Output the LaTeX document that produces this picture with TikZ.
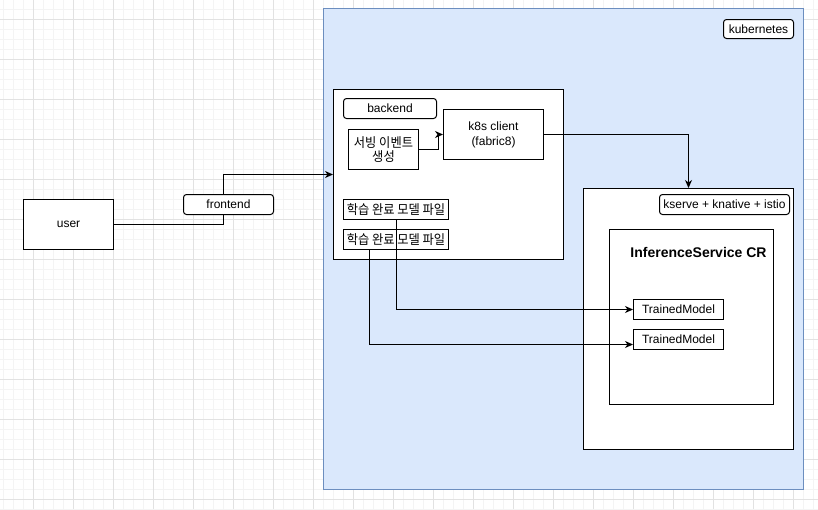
\documentclass[tikz,border=0pt]{standalone}
\usepackage{fontspec}
\setmainfont{Liberation Sans}
\newfontfamily\kr{Noto Sans CJK KR}
\usetikzlibrary{arrows.meta}
\definecolor{kfill}{HTML}{DAE8FC}
\definecolor{kdraw}{HTML}{6C8EBF}
\definecolor{gminor}{HTML}{F4F4F4}
\definecolor{gmajor}{HTML}{E2E2E2}
\newcommand{\krs}[1]{{\kr\fontsize{12.5}{15}\selectfont\scalebox{0.98}[1.05]{#1}}}
\pgfdeclarelayer{front}
\pgfsetlayers{main,front}
\begin{document}
\begin{tikzpicture}[x=1pt,y=-1pt,
  font=\fontsize{12}{15}\selectfont,
  box/.style={draw, line width=1pt, fill=white, inner sep=0pt, anchor=north west, align=center},
  rbox/.style={box, rounded corners=3pt},
  arr/.style={line width=1pt, -{Stealth[length=8pt,width=7pt,inset=2.5pt]}}]
\useasboundingbox (0,0) rectangle (818,509);
% grid
\foreach \x in {3,13,...,813} \draw[gminor, line width=1pt] (\x,0) -- (\x,509);
\foreach \y in {9,19,...,509} \draw[gminor, line width=1pt] (0,\y) -- (818,\y);
\foreach \x in {33,73,...,813} \draw[gmajor, line width=1pt] (\x,0) -- (\x,509);
\foreach \y in {19,59,...,499} \draw[gmajor, line width=1pt] (0,\y) -- (818,\y);
% kubernetes
\node[box, draw=kdraw, fill=kfill, minimum width=480pt, minimum height=481pt] (k8s) at (323,8) {};
\node[rbox, minimum width=70pt, minimum height=19pt] (klabel) at (723,19) {kubernetes};
% backend
\node[box, minimum width=230pt, minimum height=170pt] (backend) at (333,89) {};
\node[rbox, minimum width=93pt, minimum height=20pt] (blabel) at (343,98) {backend};
\node[box, minimum width=70pt, minimum height=40pt] (serv) at (348,129) {\krs{서빙 이벤트}\\[-1pt]\krs{생성}};
\node[box, minimum width=100pt, minimum height=50pt] (k8sc) at (443,109) {k8s client\\(fabric8)};
\node[box, minimum width=105pt, minimum height=20pt] (f1) at (343,199) {\krs{학습 완료 모델 파일}};
\node[box, minimum width=105pt, minimum height=20pt] (f2) at (343,229) {\krs{학습 완료 모델 파일}};
% kserve
\node[box, minimum width=210pt, minimum height=261pt] (kserve) at (583,188) {};
\node[rbox, minimum width=130pt, minimum height=20pt] (kslabel) at (659,194) {kserve + knative + istio};
\node[box, minimum width=164pt, minimum height=175pt] (isvc) at (609,229) {};
\node[font=\bfseries\fontsize{14}{16}\selectfont, inner sep=0pt] (isvct) at (698.5,252) {InferenceService CR};
\node[box, minimum width=90pt, minimum height=20pt] (tm1) at (633,299) {TrainedModel};
\node[box, minimum width=90pt, minimum height=20pt] (tm2) at (633,329) {TrainedModel};
% user / frontend
\node[box, minimum width=90pt, minimum height=50pt] (user) at (23,199) {user};
\begin{pgfonlayer}{front}
\node[rbox, minimum width=90pt, minimum height=20pt] (frontend) at (183,194) {frontend};
\end{pgfonlayer}
% connectors
\draw[arr] (user.east) -| ([xshift=-5pt]frontend.center) |- (backend.west);
\draw[arr] (serv.east) -- ++(19,0) |- (k8sc.west);
\draw[arr] (k8sc.east) -| (kserve.north);
\draw[arr] (f1.south) |- (tm1.west);
\draw[arr] ([xshift=26.5pt]f2.south west) |- ([yshift=-5pt]tm2.west);
\end{tikzpicture}
\end{document}
